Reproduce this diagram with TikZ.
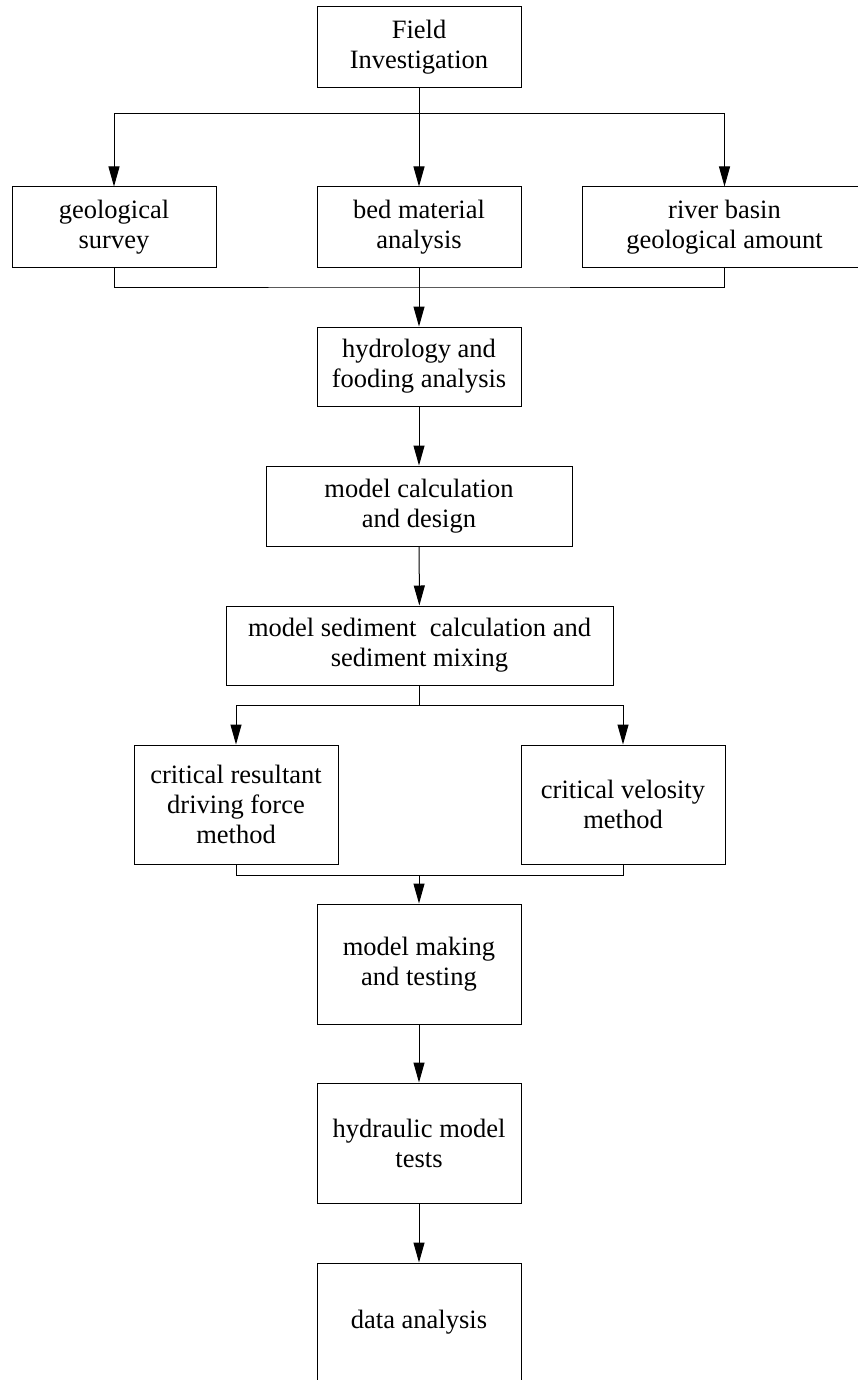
\documentclass[tikz,border=0pt]{standalone}
\usepackage{fontspec}
\setmainfont{Liberation Serif}
\usepackage{tikz}
\usetikzlibrary{arrows.meta}
\tikzset{
    flow-box/.style = {draw=black, fill=white, line width=1pt, rectangle, inner sep=0pt, align=center, minimum width=204pt, font=\fontsize{26.5}{30}\selectfont},
    flow-line/.style = {draw=black, line width=1pt},
    flow-arrow/.style = {flow-line, -{Triangle[length=20pt, width=11pt]}},
}
\begin{document}
\begin{tikzpicture}[x=1pt, y=-1pt]
\useasboundingbox (0,0) rectangle (858,1380);
\node [flow-box, minimum height=81pt] (field) at (419,47.5) {Field\\Investigation};
\node [flow-box, minimum height=80pt] (geo) at (114,227) {geological\\survey};
\node [flow-box, minimum height=80pt] (bed) at (419,227) {bed material\\analysis};
\node [flow-box, minimum height=80pt, minimum width=285pt] (river) at (724.5,227) {river basin\\geological amount};
\node [flow-box, minimum height=79pt] (hydro) at (419,366.5) {hydrology and\\fooding analysis};
\node [flow-box, minimum height=80pt, minimum width=306pt] (calc) at (419,506) {model calculation\\and design};
\node [flow-box, minimum height=79pt, minimum width=387pt] (sed) at (419.5,645.5) {model sediment\ \ calculation and\\sediment mixing};
\node [flow-box, minimum height=119pt] (res) at (236,804.5) {critical resultant\\driving force\\method};
\node [flow-box, minimum height=119pt] (vel) at (623,804.5) {critical velosity\\method};
\node [flow-box, minimum height=120pt] (making) at (419,964) {model making\\and testing};
\node [flow-box, minimum height=120pt] (hydraulic) at (419,1143) {hydraulic model\\tests};
\node [flow-box, minimum height=118pt] (data) at (419,1322) {data analysis};

\coordinate (split-top) at (419,114);
\coordinate (join-top) at (419,287);
\coordinate (split-low) at (419.5,705);
\coordinate (join-low) at (419,875);

\draw [flow-arrow] (field) -- (bed);
\draw [flow-arrow] (split-top) -| (geo);
\draw [flow-arrow] (split-top) -| (river);
\draw [flow-line] (geo.south) |- (join-top) -| (river.south);
\draw [flow-arrow] (bed) -- (hydro);
\draw [flow-arrow] (hydro) -- (calc);
\draw [flow-arrow] (calc) -- (sed);
\draw [flow-line] (sed) -- (split-low);
\draw [flow-arrow] (split-low) -| (res);
\draw [flow-arrow] (split-low) -| (vel);
\draw [flow-line] (res.south) |- (join-low) -| (vel.south);
\draw [flow-arrow] (join-low) -- (making);
\draw [flow-arrow] (making) -- (hydraulic);
\draw [flow-arrow] (hydraulic) -- (data);
\end{tikzpicture}
\end{document}
